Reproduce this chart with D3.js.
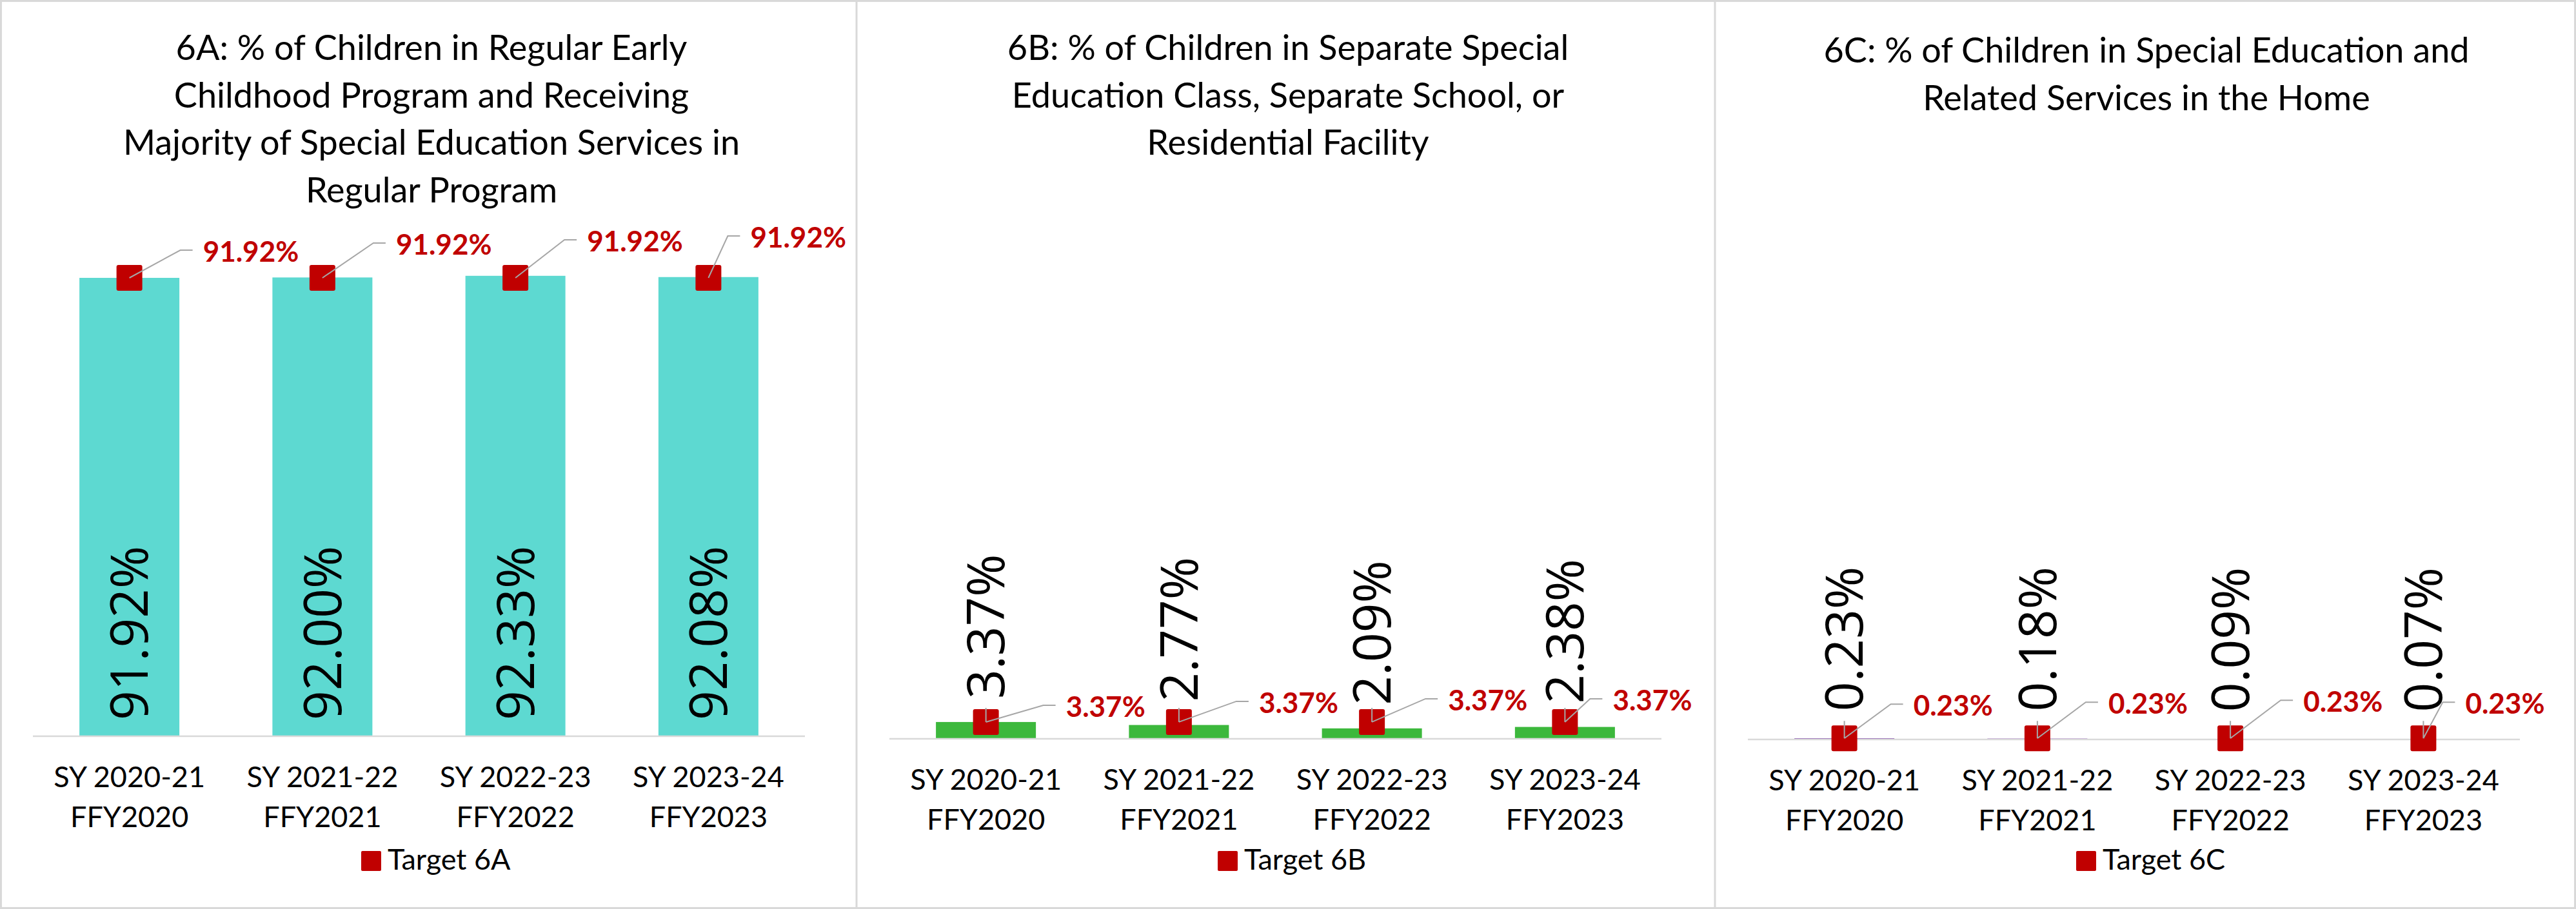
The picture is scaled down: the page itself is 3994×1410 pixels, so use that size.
<!DOCTYPE html>
<html>
<head>
<meta charset="utf-8">
<script src="https://cdn.jsdelivr.net/npm/d3@7"></script>
<style>
  html, body { margin: 0; padding: 0; background: #ffffff; }
  svg { display: block; }
</style>
</head>
<body>
<svg id="chart" width="3994" height="1410"></svg>
<script>
// ---------------- DATA ----------------
const schoolYears = ["SY 2020-21", "SY 2021-22", "SY 2022-23", "SY 2023-24"];
const fedYears    = ["FFY2020", "FFY2021", "FFY2022", "FFY2023"];

const actual6A = [91.92, 92.00, 92.33, 92.08];
const target6A = [91.92, 91.92, 91.92, 91.92];

const actual6B = [3.37, 2.77, 2.09, 2.38];
const target6B = [3.37, 3.37, 3.37, 3.37];

const actual6C = [0.23, 0.18, 0.09, 0.07];
const target6C = [0.23, 0.23, 0.23, 0.23];

const title6A = ["6A: % of Children in Regular Early", "Childhood Program and Receiving",
                 "Majority of Special Education Services in", "Regular Program"];
const title6B = ["6B: % of Children in Separate Special", "Education Class, Separate School, or",
                 "Residential Facility"];
const title6C = ["6C: % of Children in Special Education and", "Related Services in the Home"];

const legendNames = ["Target 6A", "Target 6B", "Target 6C"];
const yDomain = [0, 100];

// ---------------- LAYOUT / STYLE ----------------
const W = 3994, H = 1410;
const FRAME = "#D9D9D9";
const TARGET_RED = "#C00000";
const LEADER = "#A6A6A6";
const CAL = "Lato, 'Open Sans', sans-serif";
const VAL = "'Open Sans', 'Noto Sans', sans-serif";

const panelX = [0, 1328, 2659];
const axisY  = [1142, 1146, 1147];
const titleY = [93, 93, 97];
const barColors = ["#5DD9D1", "#3CB83C", "#7030A0"];
const labelMode = ["insideBase", "outsideEnd", "outsideEnd"];
const labelGap  = [25, 36, 42];
const stubLen   = [0, 22, 27];
// target label offsets: [dx from category centre to label left, dy from marker to baseline]
const targetLabelOffsets = [
  [[114, -25], [114, -36], [111, -41], [65, -47]],
  [[124, -8],  [124, -14], [118, -18], [74, -18]],
  [[107, -35], [110, -38], [113, -41], [65, -38]]
];

const panels = [
  { title: title6A, actual: actual6A, target: target6A, legend: legendNames[0] },
  { title: title6B, actual: actual6B, target: target6B, legend: legendNames[1] },
  { title: title6C, actual: actual6C, target: target6C, legend: legendNames[2] }
];

const svg = d3.select("#chart");
svg.append("rect").attr("x", 0).attr("y", 0).attr("width", W).attr("height", H).attr("fill", "#fff");

const fmt = v => v.toFixed(2) + "%";

panels.forEach((p, pi) => {
  const g = svg.append("g").attr("transform", `translate(${panelX[pi]},0)`);

  const x = d3.scaleBand().domain(schoolYears).range([51, 1248])
    .paddingInner(0.482).paddingOuter(0.241);
  const y = d3.scaleLinear().domain(yDomain).range([axisY[pi], axisY[pi] - 773.5]);
  const cx = i => x(schoolYears[i]) + x.bandwidth() / 2;

  // title
  const t = g.append("text")
    .attr("x", 669).attr("y", titleY[pi])
    .attr("text-anchor", "middle")
    .style("font-family", CAL).style("font-size", "54px").attr("fill", "#000");
  p.title.forEach((line, li) => {
    t.append("tspan").attr("x", 669).attr("dy", li === 0 ? 0 : 73.5).text(line);
  });

  // bars
  g.selectAll("rect.bar").data(p.actual).enter().append("rect")
    .attr("class", "bar")
    .attr("x", (d, i) => x(schoolYears[i]))
    .attr("width", x.bandwidth())
    .attr("y", d => y(d))
    .attr("height", d => y(0) - y(d))
    .attr("fill", barColors[pi]);

  // axis
  const axis = g.append("g").attr("transform", `translate(0,${axisY[pi]})`)
    .call(d3.axisBottom(x).tickSize(0).tickFormat(""));
  axis.select(".domain").attr("stroke", FRAME).attr("stroke-width", 2.5)
    .attr("d", `M51,0H1248`);
  axis.selectAll(".tick").each(function (d, i) {
    const tt = d3.select(this).append("text")
      .attr("text-anchor", "middle").attr("fill", "#000")
      .style("font-family", CAL).style("font-size", "45px");
    tt.append("tspan").attr("x", 0).attr("y", 79).text(schoolYears[i]);
    tt.append("tspan").attr("x", 0).attr("y", 140.5).text(fedYears[i]);
  });

  // bar value labels (rotated)
  g.selectAll("text.val").data(p.actual).enter().append("text")
    .attr("class", "val")
    .attr("transform", (d, i) => {
      const start = labelMode[pi] === "insideBase" ? y(0) - labelGap[pi] : y(d) - labelGap[pi];
      return `translate(${cx(i)},${start}) rotate(-90)`;
    })
    .attr("text-anchor", "start").attr("dy", "0.36em")
    .style("font-family", VAL).style("font-size", "80px").attr("fill", "#000")
    .text(d => fmt(d));

  // target markers
  g.selectAll("rect.mk").data(p.target).enter().append("rect")
    .attr("class", "mk")
    .attr("x", (d, i) => cx(i) - 20).attr("y", d => y(d) - 20)
    .attr("width", 40).attr("height", 40).attr("rx", 3)
    .attr("fill", TARGET_RED);

  // leader lines
  g.selectAll("path.leader").data(p.target).enter().append("path")
    .attr("class", "leader")
    .attr("d", (d, i) => {
      const [dx, dy] = targetLabelOffsets[pi][i];
      const mx = cx(i), my = y(d);
      const lx = mx + dx, ly = my + dy - 18;
      let s = `M${mx},${my}L${lx - 35},${ly}L${lx - 16},${ly}`;
      if (stubLen[pi] > 0) s += `M${mx},${my}L${mx},${my - stubLen[pi]}`;
      return s;
    })
    .attr("fill", "none").attr("stroke", LEADER).attr("stroke-width", 2);

  // target labels
  g.selectAll("text.tgt").data(p.target).enter().append("text")
    .attr("class", "tgt")
    .attr("x", (d, i) => cx(i) + targetLabelOffsets[pi][i][0])
    .attr("y", (d, i) => y(d) + targetLabelOffsets[pi][i][1])
    .style("font-family", CAL).style("font-weight", "bold").style("font-size", "44px")
    .attr("fill", TARGET_RED)
    .text(d => fmt(d));

  // legend
  const lg = g.append("g");
  lg.append("rect").attr("x", 560).attr("y", 1320).attr("width", 31).attr("height", 31)
    .attr("rx", 2).attr("fill", TARGET_RED);
  lg.append("text").attr("x", 601).attr("y", 1349)
    .style("font-family", CAL).style("font-size", "45px").attr("fill", "#000")
    .text(p.legend);
});

// frames / dividers
svg.append("rect").attr("x", 1.5).attr("y", 1.5).attr("width", W - 3).attr("height", H - 3)
  .attr("fill", "none").attr("stroke", FRAME).attr("stroke-width", 3);
[1328, 2659].forEach(xv => {
  svg.append("line").attr("x1", xv).attr("x2", xv).attr("y1", 0).attr("y2", H)
    .attr("stroke", FRAME).attr("stroke-width", 3);
});
</script>
</body>
</html>
